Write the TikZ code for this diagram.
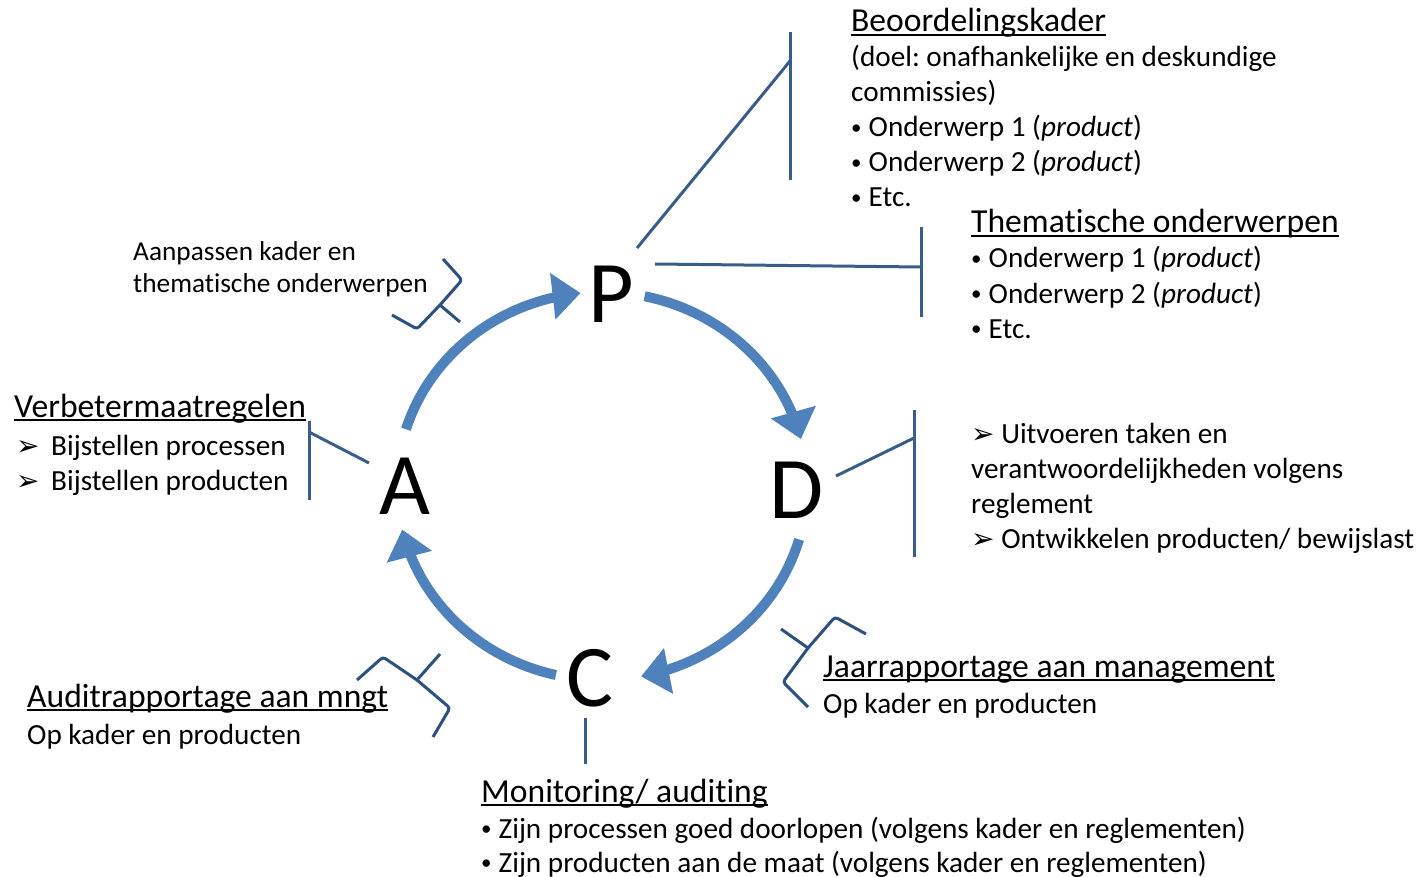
\documentclass[tikz,border=0pt]{standalone}
\usepackage{fontspec}
\setmainfont{Carlito}[Ligatures=NoCommon]
\newfontfamily\symfont{DejaVu Sans}
\usetikzlibrary{arrows.meta}
\definecolor{cycblue}{RGB}{79,129,189}
\definecolor{lineblue}{RGB}{56,93,138}
\definecolor{braceblue}{RGB}{44,80,128}
\frenchspacing
\newcommand{\ultext}[1]{\setbox0\hbox{#1}\rlap{\rule[-0.13em]{\wd0}{0.06em}}\box0}
\newcommand{\arrowbul}{{\symfont\fontsize{28}{28}\selectfont ➢}}
\newcommand{\dotbul}{{\fontsize{21}{21}\selectfont\raisebox{2.5pt}{•}}\hspace{7pt}}

\begin{document}
\begin{tikzpicture}[x=1pt, y=-1pt,
  cyc/.style={line width=10pt, draw=cycblue, -{Triangle[length=28pt, width=45pt]}},
  link/.style={draw=lineblue, line width=3pt},
  brace/.style={draw=braceblue, line width=3pt, line join=round, rounded corners=3pt},
  letter/.style={font=\fontsize{88}{88}\selectfont, inner sep=0pt, anchor=base},
  title/.style={font=\fontsize{33.6}{35}\selectfont, inner sep=0pt, anchor=base west},
  body/.style={font=\fontsize{29.2}{35}\selectfont, inner sep=0pt, anchor=base west},
  note/.style={font=\fontsize{27.3}{32}\selectfont, inner sep=0pt, anchor=base west}]
  \useasboundingbox (0,0) rectangle (1421,877);
  % PDCA letters
  \node[letter] (P) at (611,322) {P};
  \node[letter] (D) at (797,518) {D};
  \node[letter] (C) at (590,706) {C};
  \node[letter] (A) at (405,514) {A};
  % cycle arrows
  \foreach \s/\e in {197/264, 282/346, 16/79, 103/167}
    \draw[cyc] plot[domain=\s:\e, samples=40] ({602+205*cos(\x)}, {486+194*sin(\x)});

  % Beoordelingskader
  \node[title] (beoT) at (851,32) {\ultext{Beoordelingskader}};
  \foreach \txt [count=\i] in {{(doel: onafhankelijke en deskundige}, {commissies)},
      {\dotbul Onderwerp 1 (\textit{product})}, {\dotbul Onderwerp 2 (\textit{product})}, {\dotbul Etc.}}
    \node[body] (beo\i) at (851, {32+35*\i}) {\txt};
  % Thematische onderwerpen
  \node[title] (thmT) at (971,233) {\ultext{Thematische onderwerpen}};
  \foreach \txt [count=\i] in {{\dotbul Onderwerp 1 (\textit{product})},
      {\dotbul Onderwerp 2 (\textit{product})}, {\dotbul Etc.}}
    \node[body] (thm\i) at (971, {233+35*\i}) {\txt};
  % Do
  \foreach \txt [count=\i] in {{\arrowbul\ Uitvoeren taken en}, {verantwoordelijkheden volgens},
      {reglement}, {\arrowbul\ Ontwikkelen producten/ bewijslast}}
    \node[body] (do\i) at (971, {408+35*\i}) {\txt};
  % Act
  \node[title] (actT) at (14,417) {\ultext{Verbetermaatregelen}};
  \foreach \txt [count=\i] in {processen, producten}
    \node[body] (act\i) at (16, {420+35*\i}) {\makebox[35pt][l]{\arrowbul}Bijstellen \txt};
  % Aanpassen
  \node[note] (adj1) at (133,261) {Aanpassen kader en};
  \node[note] (adj2) at (133,293) {thematische onderwerpen};
  % Jaarrapportage
  \node[title] (jrT) at (823,677) {\ultext{Jaarrapportage aan management}};
  \node[body] (jr1) at (823,713) {Op kader en producten};
  % Audit
  \node[title] (auT) at (27,707) {\ultext{Auditrapportage aan mngt}};
  \node[body] (au1) at (27,744) {Op kader en producten};
  % Monitoring
  \node[title] (monT) at (481,802) {\ultext{Monitoring/ auditing}};
  \node[body] (mon1) at (481,838) {\dotbul Zijn processen goed doorlopen (volgens kader en reglementen)};
  \node[body] (mon2) at (481,872) {\dotbul Zijn producten aan de maat (volgens kader en reglementen)};

  % links
  \coordinate (beoTop) at (790,32);  \coordinate (beoBot) at (790,180);
  \coordinate (beoKnee) at (790,61); \coordinate (beoFoot) at (637,248);
  \draw[link] (beoTop) -- (beoBot);
  \draw[link] (beoFoot) -- (beoKnee);
  \coordinate (thmTop) at (921,227);  \coordinate (thmBot) at (921,317);
  \coordinate (thmKnee) at (921,267); \coordinate (thmFoot) at (655,264);
  \draw[link] (thmTop) -- (thmBot);
  \draw[link] (thmFoot) -- (thmKnee);
  \coordinate (doTop) at (914,410);  \coordinate (doBot) at (914,557);
  \coordinate (doKnee) at (914,438); \coordinate (doFoot) at (836,476);
  \draw[link] (doTop) -- (doBot);
  \draw[link] (doFoot) -- (doKnee);
  \coordinate (actTop) at (309,421);  \coordinate (actBot) at (309,500);
  \coordinate (actKnee) at (309,432); \coordinate (actFoot) at (369,463);
  \draw[link] (actTop) -- (actBot);
  \draw[link] (actFoot) -- (actKnee);
  \coordinate (chkTop) at (585,718); \coordinate (chkBot) at (585,764);
  \draw[link] (chkTop) -- (chkBot);

  % braces
  \draw[brace] (443,259) -- (462,280) -- (440,305) -- (417,329) -- (392,315);
  \draw[brace] (440,305) -- (460,322);
  \draw[brace] (357,680) -- (383,657) -- (417,680) -- (450,708) -- (433,737);
  \draw[brace] (417,680) -- (440,654);
  \draw[brace] (866,634) -- (835,617) -- (808,648) -- (783,682) -- (808,707);
  \draw[brace] (808,648) -- (781,629);
\end{tikzpicture}
\end{document}
